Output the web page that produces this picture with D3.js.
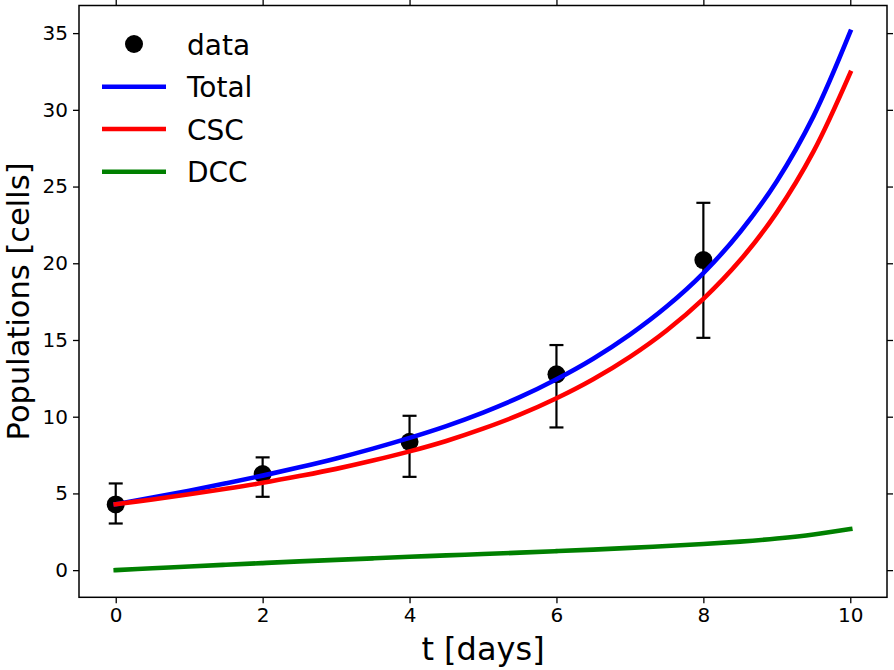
<!DOCTYPE html>
<html>
<head>
<meta charset="utf-8">
<script src="https://cdn.jsdelivr.net/npm/d3@7"></script>
<style>
  html, body { margin: 0; padding: 0; background: #ffffff; }
  svg { display: block; font-family: "DejaVu Sans", sans-serif; }
</style>
</head>
<body>
<svg id="chart" width="894" height="670"></svg>
<script>
// ---- Data ----
const tDays = [0,0.5,1,1.5,2,2.5,3,3.5,4,4.5,5,5.5,6,6.5,7,7.5,8,8.5,9,9.5,10];
const totalPop = [4.30,4.73,5.18,5.66,6.16,6.70,7.28,7.92,8.62,9.39,10.27,11.27,12.44,13.78,15.35,17.18,19.36,22.04,25.35,29.59,35.09];
const cscPop   = [4.30,4.61,4.94,5.30,5.69,6.13,6.60,7.14,7.74,8.42,9.22,10.13,11.20,12.44,13.90,15.62,17.68,20.19,23.32,27.29,32.41];
const dccPop   = [0.00,0.12,0.24,0.35,0.46,0.57,0.67,0.77,0.87,0.96,1.05,1.14,1.24,1.34,1.45,1.57,1.70,1.86,2.06,2.32,2.68];

const dataT    = [0,2,4,6,8];
const dataMean = [4.28,6.26,8.36,12.76,20.21];
const dataLow  = [3.04,4.78,6.08,9.30,15.14];
const dataHigh = [5.65,7.35,10.06,14.67,23.94];

const xTicks = [0,2,4,6,8,10];
const yTicks = [0,5,10,15,20,25,30,35];

const seriesNames  = ["Total","CSC","DCC"];
const seriesColors = ["#0000ff","#ff0000","#008000"];

// ---- Layout ----
const svg = d3.select("#chart");
const pLeft = 79, pRight = 887, pTop = 5.5, pBottom = 597.3;

const x = d3.scaleLinear().domain([-0.5, 10.5]).range([pLeft, pRight]);
const y = d3.scaleLinear().domain([-1.77, 36.8]).range([pBottom, pTop]);

// error bars
const eb = svg.append("g").attr("stroke", "#000").attr("stroke-width", 2.2);
dataT.forEach((t, i) => {
  eb.append("line").attr("x1", x(t)).attr("x2", x(t)).attr("y1", y(dataLow[i])).attr("y2", y(dataHigh[i]));
  eb.append("line").attr("x1", x(t) - 7).attr("x2", x(t) + 7).attr("y1", y(dataLow[i])).attr("y2", y(dataLow[i]));
  eb.append("line").attr("x1", x(t) - 7).attr("x2", x(t) + 7).attr("y1", y(dataHigh[i])).attr("y2", y(dataHigh[i]));
});
svg.append("g").selectAll("circle").data(dataT).join("circle")
  .attr("cx", d => x(d)).attr("cy", (d, i) => y(dataMean[i])).attr("r", 9).attr("fill", "#000");

// model lines
const seriesVals = [totalPop, cscPop, dccPop];
const line = d3.line().x(d => x(d[0])).y(d => y(d[1])).curve(d3.curveCatmullRom.alpha(0.5));
seriesVals.forEach((vals, k) => {
  svg.append("path")
    .attr("d", line(tDays.map((t, i) => [t, vals[i]])))
    .attr("fill", "none").attr("stroke", seriesColors[k]).attr("stroke-width", 4.6)
    .attr("stroke-linecap", "square");
});

// axes (ticks outward on all four sides)
const fs = 20;
const xAxisB = d3.axisBottom(x).tickValues(xTicks).tickSize(6).tickPadding(5).tickFormat(d3.format("d"));
const xAxisT = d3.axisTop(x).tickValues(xTicks).tickSize(6).tickFormat("");
const yAxisL = d3.axisLeft(y).tickValues(yTicks).tickSize(6).tickPadding(5).tickFormat(d3.format("d"));
const yAxisR = d3.axisRight(y).tickValues(yTicks).tickSize(6).tickFormat("");

function styleAxis(g) {
  g.select(".domain").remove();
  g.selectAll(".tick line").attr("stroke", "#000").attr("stroke-width", 1.3);
  g.selectAll(".tick text").attr("fill", "#000").attr("font-size", fs).attr("font-family", "DejaVu Sans");
}
svg.append("g").attr("transform", `translate(0,${pBottom})`).call(xAxisB).call(styleAxis);
svg.append("g").attr("transform", `translate(0,${pTop})`).call(xAxisT).call(styleAxis);
svg.append("g").attr("transform", `translate(${pLeft},0)`).call(yAxisL).call(styleAxis);
svg.append("g").attr("transform", `translate(${pRight},0)`).call(yAxisR).call(styleAxis);

// frame
svg.append("rect").attr("x", pLeft).attr("y", pTop).attr("width", pRight - pLeft).attr("height", pBottom - pTop)
  .attr("fill", "none").attr("stroke", "#000").attr("stroke-width", 1.5);

// axis labels
svg.append("text").attr("x", (pLeft + pRight) / 2).attr("y", 660).attr("text-anchor", "middle")
  .attr("font-size", 32).attr("fill", "#000").text("t [days]");
svg.append("text").attr("transform", `translate(29,${(pTop + pBottom) / 2}) rotate(-90)`)
  .attr("text-anchor", "middle").attr("font-size", 30.5).attr("fill", "#000").text("Populations [cells]");

// legend
const legend = svg.append("g");
const rowY = [44, 86.7, 129, 171.7];
legend.append("circle").attr("cx", 134).attr("cy", rowY[0]).attr("r", 9).attr("fill", "#000");
legend.append("text").attr("x", 187).attr("y", rowY[0] + 10.5).attr("font-size", 28).attr("fill", "#000").text("data");
seriesNames.forEach((name, k) => {
  const yy = rowY[k + 1];
  legend.append("line").attr("x1", 102).attr("x2", 166).attr("y1", yy).attr("y2", yy)
    .attr("stroke", seriesColors[k]).attr("stroke-width", 4.6);
  legend.append("text").attr("x", 187).attr("y", yy + 10.5).attr("font-size", 28).attr("fill", "#000").text(name);
});
</script>
</body>
</html>
